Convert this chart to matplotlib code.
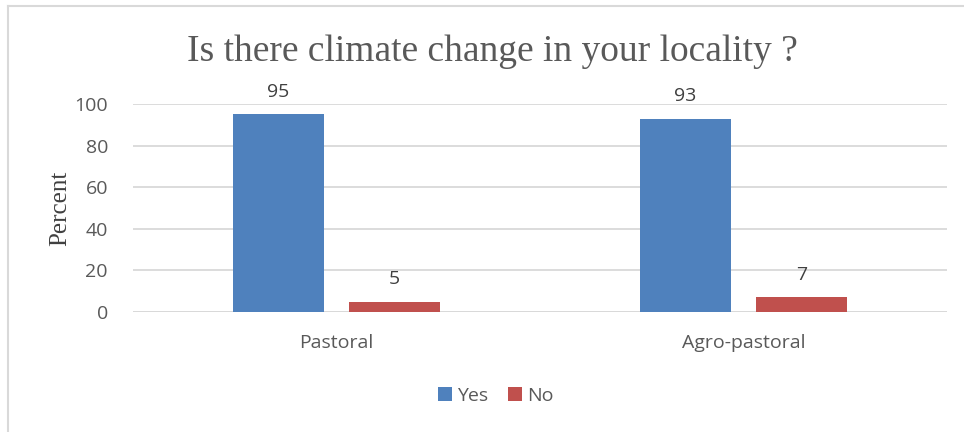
import numpy as np
import matplotlib.pyplot as plt
from matplotlib.lines import Line2D

# survey answers (percent)
groups = ['Pastoral', 'Agro-pastoral']
yes = [95, 93]
no = [5, 7]
yticks = [0, 20, 40, 60, 80, 100]

blue = '#4F81BD'
red = '#C0504D'
grid_col = '#D9D9D9'
text_col = '#595959'

plt.rcParams['font.family'] = ['Open Sans', 'DejaVu Sans']

fig = plt.figure(figsize=(9.64, 4.32), dpi=100)
ax = fig.add_axes([133/964, 1 - 312/432, (947 - 133)/964, (312 - 104)/432])

x = np.arange(len(groups))
w = 0.224
off = 0.1425
b1 = ax.bar(x - off, yes, w, color=blue, label='Yes', zorder=3)
b2 = ax.bar(x + off, no, w, color=red, label='No', zorder=3)

for bars, vals in ((b1, yes), (b2, no)):
    for rect, v in zip(bars, vals):
        ax.annotate(str(v), (rect.get_x() + rect.get_width()/2, v),
                    xytext=(0, 16), textcoords='offset points',
                    ha='center', va='center', fontsize=14, color='#404040')

ax.set_xlim(-0.5, 1.5)
ax.set_ylim(0, 100)
ax.set_yticks(yticks)
ax.set_xticks(x)
ax.set_xticklabels(groups)
ax.tick_params(axis='both', length=0, labelsize=14, labelcolor=text_col)
ax.tick_params(axis='x', pad=16)
ax.tick_params(axis='y', pad=18)
ax.yaxis.grid(True, color=grid_col, linewidth=1.3, zorder=0)
for s in ax.spines.values():
    s.set_visible(False)
ax.axhline(0, color=grid_col, linewidth=1.3, zorder=1)

ax.set_ylabel('Percent', family='Liberation Serif', fontsize=18, color='#404040', va='center')
ax.yaxis.set_label_coords((60 - 133)/814, 0.5)
fig.text(492/964, 1 - 61/432, 'Is there climate change in your locality ?',
         family='Liberation Serif', fontsize=27, color=text_col, ha='center', va='baseline')

fig.legend(handles=[b1, b2], labels=['Yes', 'No'], loc='center',
           bbox_to_anchor=(496/964, 1 - 396/432), ncol=2, frameon=False,
           fontsize=14, labelcolor=text_col, handlelength=0.7, handleheight=0.7,
           handletextpad=0.3, columnspacing=1.0)

# chart area border (left and top edges)
fig.add_artist(Line2D([7.5/964, 7.5/964], [0, 1 - 5.5/432], color=grid_col, linewidth=1.5))
fig.add_artist(Line2D([7.5/964, 1], [1 - 5.5/432, 1 - 5.5/432], color=grid_col, linewidth=1.5))

fig.savefig('out.png', dpi=100)
